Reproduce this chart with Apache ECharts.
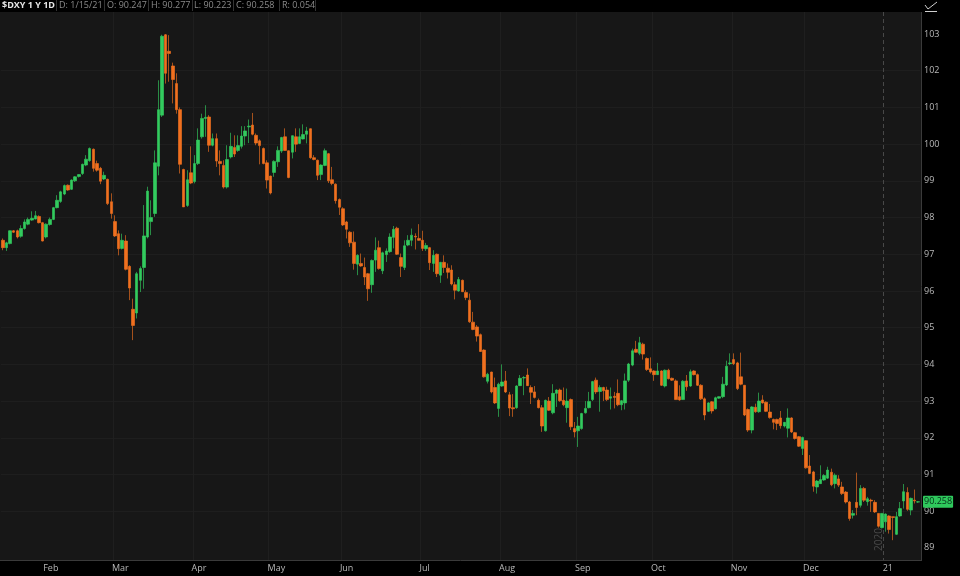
<!DOCTYPE html>
<html>
<head>
<meta charset="utf-8">
<style>html,body{margin:0;padding:0;background:#000}#c{width:960px;height:576px}</style>
<script src="https://cdn.jsdelivr.net/npm/echarts@6/dist/echarts.min.js"></script>
</head>
<body>
<div id="c"></div>
<script>
const opens = [
97.38,97.18,97.29,97.64,97.64,97.49,97.70,97.82,97.93,97.96,
98.03,97.86,97.47,97.81,97.95,98.27,98.44,98.64,98.88,98.77,
99.00,99.12,99.20,99.43,99.55,99.86,99.47,99.34,99.05,99.04,
98.43,97.89,97.56,97.16,97.36,96.67,95.50,95.40,96.29,96.64,
97.47,97.89,98.11,99.40,100.79,102.98,102.53,102.13,101.65,100.94,
99.31,98.33,99.22,98.98,99.47,100.20,100.70,100.74,99.97,100.15,
99.53,99.42,98.83,99.65,99.91,99.83,99.94,100.22,100.47,100.52,
100.24,100.09,99.88,99.49,99.13,99.23,99.52,99.81,100.20,99.82,
99.78,100.20,100.02,100.14,100.27,100.42,99.63,99.56,99.17,99.42,
99.74,99.03,98.91,98.49,98.24,97.88,97.60,97.33,96.73,96.75,
96.64,96.47,96.17,96.84,97.18,96.55,96.99,97.07,97.46,97.71,
96.91,96.64,97.25,97.38,97.49,97.43,97.38,97.15,97.18,96.75,
97.00,96.43,96.78,96.62,96.57,96.17,96.00,96.29,95.96,95.75,
95.15,95.02,94.81,94.39,93.54,93.79,93.37,92.80,93.41,93.55,
93.17,92.82,92.82,93.42,93.63,93.71,93.37,93.25,93.02,92.82,
92.19,93.00,92.68,93.21,93.30,93.02,92.82,93.04,92.25,92.19,
92.25,92.68,92.82,93.04,93.57,93.26,93.37,93.30,93.08,93.13,
93.21,92.90,92.95,93.57,93.98,94.41,94.30,94.55,94.16,93.88,
93.82,93.72,93.82,93.41,93.84,93.62,93.55,93.12,93.04,93.55,
93.41,93.82,93.72,93.43,93.06,92.72,92.98,92.79,93.08,93.12,
93.44,94.02,94.13,94.04,93.66,93.43,92.77,92.21,92.83,92.71,
93.03,92.97,92.70,92.50,92.50,92.54,92.32,92.26,92.54,92.14,
92.03,91.71,91.92,91.23,91.07,90.66,90.75,90.85,90.90,91.06,
90.75,90.88,90.66,90.52,90.25,89.89,90.24,90.16,90.62,90.26,
90.30,90.24,89.94,89.55,89.71,89.87,89.85,89.37,89.87,90.28,
90.51,90.03,90.30,90.247];
const highs = [
97.43,97.34,97.65,97.66,97.67,97.79,97.95,98.00,98.17,98.18,
98.06,97.88,97.84,98.00,98.29,98.61,98.73,98.90,98.90,99.04,
99.13,99.18,99.47,99.70,99.91,99.88,99.55,99.38,99.25,99.06,
98.66,98.06,97.65,97.56,97.52,96.70,95.79,96.52,96.67,98.34,
98.84,98.47,99.83,101.74,102.98,103.00,102.97,102.22,101.93,101.00,
99.33,99.29,99.94,99.70,100.43,100.83,101.06,100.79,100.29,100.29,
99.83,99.56,99.97,100.31,100.24,100.24,100.49,100.49,100.67,100.85,
100.29,100.13,99.91,99.56,99.14,99.56,99.94,100.20,100.43,99.83,
100.24,100.43,100.43,100.54,100.47,100.43,99.70,99.58,99.45,99.88,
99.76,99.38,98.93,98.52,98.28,97.91,97.63,97.62,97.00,97.02,
96.91,96.49,96.86,97.46,97.37,97.07,97.16,97.57,97.77,97.75,
97.02,97.38,97.52,97.70,97.57,97.82,97.64,97.31,97.20,97.11,
97.02,96.79,96.97,96.75,96.70,96.25,96.38,96.31,96.02,95.93,
95.43,95.07,94.84,94.41,93.77,93.80,93.64,93.50,94.00,93.82,
93.25,93.19,93.43,93.71,93.68,93.89,93.43,93.41,93.07,92.89,
93.04,93.11,93.46,93.32,93.34,93.37,93.34,93.07,92.43,92.57,
92.68,93.00,93.25,93.55,93.64,93.43,93.39,93.39,93.37,93.25,
93.59,93.03,93.75,94.04,94.43,94.64,94.75,94.59,94.19,94.19,
93.84,94.04,93.84,93.86,93.88,93.64,93.59,93.43,93.57,93.71,
93.86,93.84,93.75,93.46,93.10,92.97,93.00,93.12,93.13,93.66,
94.10,94.30,94.30,94.07,94.32,93.44,92.80,92.86,92.93,93.23,
93.16,92.99,92.92,92.52,92.52,92.73,92.43,92.80,92.56,92.16,
92.05,92.03,91.93,91.53,91.10,90.85,91.25,91.01,91.21,91.16,
91.03,90.98,90.80,90.55,90.28,90.03,91.05,90.71,90.66,90.39,
90.34,90.30,89.95,89.95,89.94,89.89,89.85,89.98,90.25,90.74,
90.65,90.37,90.59,90.277];
const lows = [
97.11,97.09,97.27,97.58,97.43,97.45,97.67,97.79,97.91,97.95,
97.84,97.35,97.43,97.78,97.93,98.25,98.40,98.61,98.73,98.75,
98.97,99.09,99.16,99.40,99.52,99.25,99.25,98.91,99.02,98.34,
97.97,97.47,96.97,97.13,96.56,95.75,94.66,95.25,95.97,96.06,
97.43,97.52,98.02,99.15,100.74,101.65,101.70,101.11,100.83,99.20,
98.29,98.29,98.91,98.93,99.43,100.15,100.20,99.79,99.94,99.38,
99.15,98.79,98.79,99.61,99.65,99.79,99.88,99.97,100.03,100.24,
99.97,99.45,99.45,98.79,98.63,99.11,99.38,99.76,99.82,99.07,
99.61,99.79,100.00,100.13,100.02,99.60,99.56,99.02,99.02,99.40,
98.94,98.88,98.38,98.07,97.77,97.43,97.20,96.58,96.43,96.66,
96.16,95.73,95.95,96.52,96.58,96.46,96.79,97.04,97.16,96.98,
96.38,96.57,97.22,97.22,97.13,97.37,97.09,97.09,96.57,96.52,
96.38,96.22,96.49,96.34,96.15,95.77,95.98,95.97,95.75,95.13,
94.93,94.62,94.34,93.64,93.48,93.21,92.92,92.57,93.39,93.22,
92.59,92.57,92.79,93.41,93.16,93.41,92.92,93.07,92.80,92.16,
92.17,92.73,92.64,92.84,92.98,92.86,92.41,92.21,92.01,91.75,
92.22,92.66,92.80,93.00,93.19,92.71,93.00,93.00,92.77,92.80,
92.86,92.75,92.77,93.52,93.95,94.32,94.25,94.13,93.82,93.75,
93.55,93.71,93.41,93.37,93.59,93.55,93.03,93.01,93.03,93.28,
93.39,93.70,93.41,93.03,92.48,92.70,92.66,92.77,93.06,93.08,
93.41,93.98,93.98,93.30,93.43,92.59,92.16,92.12,92.68,92.68,
92.93,92.70,92.52,92.23,92.21,92.25,92.28,92.01,92.13,91.95,
91.75,91.53,91.16,91.01,90.53,90.48,90.74,90.83,90.88,90.68,
90.62,90.66,90.44,90.21,89.74,89.80,89.89,90.10,90.25,90.15,
89.98,89.95,89.55,89.53,89.44,89.39,89.21,89.35,89.85,90.07,
90.01,89.89,90.21,90.223];
const closes = [
97.18,97.31,97.64,97.60,97.47,97.70,97.88,97.95,97.98,98.05,
97.86,97.36,97.82,97.95,98.27,98.47,98.70,98.87,98.75,99.02,
99.11,99.17,99.45,99.59,99.88,99.34,99.29,98.99,99.15,98.38,
98.11,97.50,97.15,97.38,96.59,96.08,95.06,96.47,96.61,97.50,
98.72,98.00,99.49,100.94,102.94,101.93,102.47,101.76,100.94,99.45,
98.29,99.03,98.94,99.47,100.11,100.70,100.73,99.97,100.15,99.54,
99.47,98.83,99.58,99.94,99.73,99.96,100.22,100.36,100.49,100.27,
100.03,99.96,99.47,99.02,98.67,99.53,99.83,100.18,99.83,99.09,
100.23,100.00,100.20,100.26,100.36,99.63,99.58,99.15,99.43,99.82,
99.00,98.93,98.46,98.28,97.80,97.68,97.31,96.75,96.97,96.68,
96.38,96.06,96.83,97.11,96.61,97.04,97.09,97.47,97.68,97.00,
96.67,97.23,97.38,97.52,97.47,97.38,97.16,97.24,96.77,96.97,
96.47,96.78,96.64,96.51,96.19,96.02,96.31,95.98,95.82,95.16,
94.95,94.77,94.35,93.66,93.73,93.25,92.95,93.46,93.52,93.25,
92.81,92.79,93.41,93.62,93.64,93.42,93.24,93.10,92.82,92.32,
93.02,92.75,93.21,93.30,93.01,92.90,93.00,92.30,92.16,92.32,
92.66,92.80,92.99,93.53,93.25,93.37,93.28,93.04,93.12,93.10,
92.90,93.01,93.55,94.01,94.37,94.33,94.59,94.28,93.86,93.79,
93.72,93.82,93.43,93.84,93.61,93.57,93.04,93.03,93.54,93.39,
93.80,93.72,93.43,93.06,92.62,92.95,92.73,93.09,93.12,93.46,
93.95,94.04,94.02,93.34,93.46,92.62,92.21,92.84,92.71,93.00,
92.95,92.72,92.55,92.42,92.39,92.33,92.42,92.54,92.16,91.98,
91.77,92.01,91.18,91.03,90.68,90.82,90.86,90.97,91.12,90.72,
90.98,90.71,90.48,90.25,89.80,89.94,90.10,90.62,90.30,90.34,
90.28,89.98,89.59,89.94,89.92,89.50,89.83,89.85,90.07,90.53,
90.05,90.35,90.28,90.258];

const startDate = '2020-01-15';
const holidays = ['2020-01-20','2020-02-17','2020-04-10','2020-05-25','2020-07-03','2020-09-07','2020-11-26','2020-12-25','2021-01-01'];
const monthStarts = ['2020-02-03','2020-03-02','2020-04-01','2020-05-01','2020-06-01','2020-07-01','2020-08-03','2020-09-01','2020-10-01','2020-11-02','2020-12-01'];
const monthLabels = ['Feb','Mar','Apr','May','Jun','Jul','Aug','Sep','Oct','Nov','Dec'];
const yearStart = '2021-01-04';
const yearLabel = '21';
const yTicks = [89,90,91,92,93,94,95,96,97,98,99,100,101,102,103];
const headerTitle = '$DXY 1 Y 1D';
const headerFields = ['D: 1/15/21','O: 90.247','H: 90.277','L: 90.223','C: 90.258','R: 0.054'];
const lastPrice = '90.258';

const categories = [];
for (let d = new Date(startDate + 'T00:00:00Z'); categories.length < opens.length; d = new Date(d.getTime() + 864e5)) {
  const s = d.toISOString().slice(0, 10), w = d.getUTCDay();
  if (w !== 0 && w !== 6 && !holidays.includes(s)) categories.push(s);
}
const labelOf = {};
monthStarts.forEach((m, i) => labelOf[m] = monthLabels[i]);
labelOf[yearStart] = yearLabel;

const GREEN = '#32cb5e', ORANGE = '#f0701f';
const FONT = '"Open Sans", sans-serif';
const fieldX = [59, 107, 151, 194, 236, 282];
const sepX = [56, 104, 148, 192, 233, 279, 315];

const graphic = [
  {type:'rect', silent:true, z:-10, shape:{x:0,y:12,width:921,height:548}, style:{fill:'#171717'}},
  {type:'line', silent:true, z:-9, shape:{x1:0,y1:560.5,x2:921,y2:560.5}, style:{stroke:'#3a3a3a',lineWidth:1}},
  {type:'line', silent:true, z:-9, shape:{x1:921.5,y1:12,x2:921.5,y2:561}, style:{stroke:'#3a3a3a',lineWidth:1}},
  {type:'text', silent:true, z:20, style:{x:2,y:5.5,text:headerTitle,fill:'#e6e6e6',font:'bold 9px '+FONT,textVerticalAlign:'middle'}},
  {type:'text', silent:true, z:20, rotation:Math.PI/2, x:879, y:551, style:{x:0,y:0,text:'2020',fill:'#4a4a4a',font:'10px '+FONT,textVerticalAlign:'middle'}},
  {type:'polyline', silent:true, z:20, shape:{points:[[925,5],[928,9],[937,2]]}, style:{stroke:'#cfcfcf',lineWidth:1,fill:null}},
  {type:'line', silent:true, z:20, shape:{x1:925,y1:11.5,x2:937,y2:11.5}, style:{stroke:'#cfcfcf',lineWidth:1}}
];
headerFields.forEach((t, i) => graphic.push({type:'text', silent:true, z:20, style:{x:fieldX[i],y:5.5,text:t,fill:'#8a8a8a',font:'9px '+FONT,textVerticalAlign:'middle'}}));
sepX.forEach(x => graphic.push({type:'line', silent:true, z:20, shape:{x1:x+.5,y1:0,x2:x+.5,y2:11}, style:{stroke:'#333',lineWidth:1}}));

const chart = echarts.init(document.getElementById('c'), null, {renderer:'canvas'});
chart.setOption({
  backgroundColor:'#000',
  animation:false,
  graphic,
  grid:{left:1, top:12, width:919, height:548, containLabel:false},
  xAxis:{
    type:'category', data:categories, boundaryGap:true, position:'bottom',
    axisLine:{show:false}, axisTick:{show:false},
    splitLine:{show:true, showMinLine:false, showMaxLine:false, interval:(i,v)=>monthStarts.includes(v), lineStyle:{color:'#1f1f1f',width:1}},
    axisLabel:{show:true, interval:(i,v)=>labelOf[v]!==undefined, formatter:v=>labelOf[v]||'', align:'left', color:'#b8b8b8', fontSize:9, fontFamily:FONT, margin:4, hideOverlap:false, padding:[0,0,0,-3]}
  },
  yAxis:{
    type:'value', position:'right', min:88.67, max:103.6, offset:1,
    axisLine:{show:false},
    axisTick:{show:false, customValues:yTicks},
    axisLabel:{color:'#b8b8b8', fontSize:9, fontFamily:FONT, margin:3, padding:[3,0,0,0], customValues:yTicks, formatter:v=>String(v)},
    splitLine:{show:true, showMinLine:false, showMaxLine:false, lineStyle:{color:'#1e1e1e',width:1}}
  },
  series:[{
    type:'candlestick',
    data:categories.map((c,i)=>[opens[i],closes[i],lows[i],highs[i]]),
    barWidth:3,
    itemStyle:{color:GREEN,color0:ORANGE,borderColor:'rgba(50,203,94,.65)',borderColor0:'rgba(240,112,31,.65)',borderWidth:1},
    clip:false,
    markLine:{
      silent:true, symbol:'none', animation:false,
      data:[{yAxis:closes[closes.length-1]}],
      lineStyle:{color:'rgba(0,0,0,0)',width:0},
      label:{show:true, position:'end', distance:3, formatter:lastPrice, color:'#06301a', backgroundColor:'#2fc85c', borderRadius:1, padding:[2,1,1,1], fontSize:9, lineHeight:9, fontFamily:FONT}
    }
  }]
});
const yi = categories.indexOf(yearStart);
const cx = chart.convertToPixel({xAxisIndex:0}, categories[yi]);
const nx = chart.convertToPixel({xAxisIndex:0}, categories[yi+1]);
const lineX = Math.floor(cx - (nx - cx) / 2) + .5;
chart.setOption({graphic: graphic.concat([{type:'line', silent:true, z:1, shape:{x1:lineX,y1:12,x2:lineX,y2:560}, style:{stroke:'#484848',lineWidth:1,lineDash:[4,3]}}])});
</script>
</body>
</html>
